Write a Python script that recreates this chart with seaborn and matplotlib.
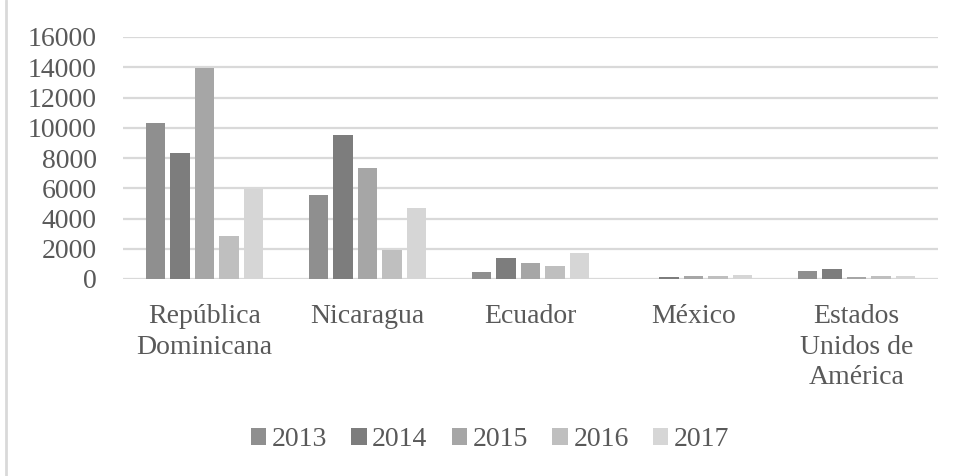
import matplotlib
matplotlib.use("Agg")
import matplotlib.pyplot as plt
from matplotlib.lines import Line2D
import pandas as pd
import seaborn as sns

countries = ["República\nDominicana", "Nicaragua", "Ecuador", "México",
             "Estados\nUnidos de\nAmérica"]
years = ["2013", "2014", "2015", "2016", "2017"]
v2013 = [10300, 5550, 440, 0, 530]
v2014 = [8330, 9530, 1370, 110, 640]
v2015 = [13950, 7330, 1070, 200, 110]
v2016 = [2840, 1950, 890, 200, 200]
v2017 = [5980, 4710, 1730, 290, 200]
yticks = [0, 2000, 4000, 6000, 8000, 10000, 12000, 14000, 16000]

colors = ["#8f8f8f", "#7d7d7d", "#a6a6a6", "#bfbfbf", "#d6d6d6"]
text_color = "#595959"
grid_color = "#d9d9d9"

series = [v2013, v2014, v2015, v2016, v2017]
rows = []
for year, vals in zip(years, series):
    for c, v in zip(countries, vals):
        rows.append({"país": c, "año": year, "valor": v})
df = pd.DataFrame(rows)

sns.set_style("white")
plt.rcParams["font.family"] = ["Liberation Serif", "DejaVu Serif"]

fig = plt.figure(figsize=(9.57, 4.76), dpi=100)
ax = fig.add_axes([123 / 957, 1 - 279 / 476, (938 - 123) / 957, (279 - 37) / 476])

sns.barplot(data=df, x="país", y="valor", hue="año", order=countries,
            hue_order=years, palette=colors, width=0.75, gap=0.2,
            linewidth=0, saturation=1, ax=ax, errorbar=None)

ax.set_xlim(-0.5, len(countries) - 0.5)
ax.set_ylim(0, 16000)
ax.set_yticks(yticks)
ax.set_yticklabels([str(t) for t in yticks])
ax.yaxis.grid(True, color=grid_color, linewidth=1.6)
ax.set_axisbelow(True)
for s in ax.spines.values():
    s.set_visible(False)
ax.axhline(0, color=grid_color, linewidth=1.8, zorder=0.5)
ax.set_xlabel("")
ax.set_ylabel("")
ax.tick_params(axis="y", length=0, pad=19, labelsize=20, labelcolor=text_color)
ax.tick_params(axis="x", length=0, pad=18, labelsize=20, labelcolor=text_color)
for lbl in ax.get_xticklabels():
    lbl.set_linespacing(1.3)

handles, labels = ax.get_legend_handles_labels()
ax.get_legend().remove()
fig.legend(handles, labels, loc="center", bbox_to_anchor=(490 / 957, 1 - 440 / 476),
           ncol=5, frameon=False, fontsize=20, labelcolor=text_color,
           handlelength=0.55, handleheight=0.55, handletextpad=0.2,
           columnspacing=0.88, borderaxespad=0)

# chart area border on the left edge
fig.add_artist(Line2D([6 / 957, 6 / 957], [0, 1], transform=fig.transFigure,
                      color=grid_color, linewidth=2))

fig.savefig("out.png", dpi=100, facecolor="white")
